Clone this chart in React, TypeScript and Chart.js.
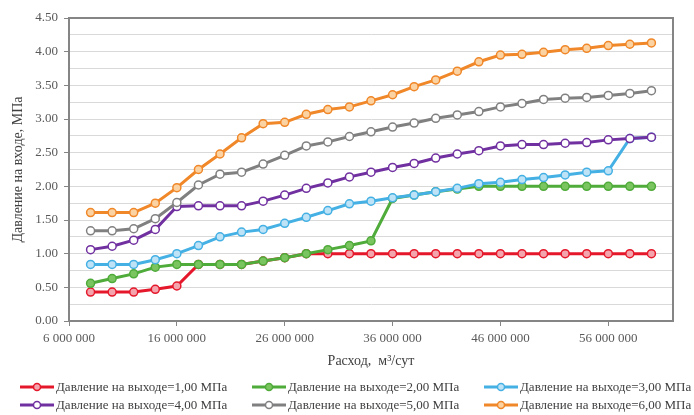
import React, { useEffect, useRef } from "react";
import { Chart, registerables } from "chart.js";

Chart.register(...registerables);

const flowValues = [
  8000000, 10000000, 12000000, 14000000, 16000000, 18000000, 20000000, 22000000, 24000000,
  26000000, 28000000, 30000000, 32000000, 34000000, 36000000, 38000000, 40000000, 42000000,
  44000000, 46000000, 48000000, 50000000, 52000000, 54000000, 56000000, 58000000, 60000000,
];

const p1 = [0.43, 0.43, 0.43, 0.47, 0.52, 0.84, 0.84, 0.84, 0.89, 0.94, 1.0, 1.0, 1.0, 1.0, 1.0, 1.0, 1.0, 1.0, 1.0, 1.0, 1.0, 1.0, 1.0, 1.0, 1.0, 1.0, 1.0];
const p2 = [0.56, 0.63, 0.7, 0.8, 0.84, 0.84, 0.84, 0.84, 0.89, 0.94, 1.0, 1.06, 1.12, 1.19, 1.82, 1.87, 1.92, 1.96, 2.0, 2.0, 2.0, 2.0, 2.0, 2.0, 2.0, 2.0, 2.0];
const p3 = [0.84, 0.84, 0.84, 0.91, 1.0, 1.12, 1.25, 1.32, 1.36, 1.45, 1.54, 1.64, 1.74, 1.78, 1.83, 1.87, 1.92, 1.97, 2.04, 2.06, 2.1, 2.13, 2.17, 2.21, 2.23, 2.71, 2.73];
const p4 = [1.06, 1.11, 1.2, 1.36, 1.7, 1.71, 1.71, 1.71, 1.78, 1.87, 1.97, 2.05, 2.14, 2.21, 2.28, 2.34, 2.42, 2.48, 2.53, 2.6, 2.62, 2.62, 2.64, 2.65, 2.69, 2.71, 2.73];
const p5 = [1.34, 1.34, 1.37, 1.52, 1.76, 2.02, 2.18, 2.21, 2.33, 2.46, 2.6, 2.66, 2.74, 2.81, 2.88, 2.94, 3.01, 3.06, 3.11, 3.18, 3.23, 3.29, 3.31, 3.32, 3.35, 3.38, 3.42];
const p6 = [1.61, 1.61, 1.61, 1.75, 1.98, 2.25, 2.48, 2.72, 2.93, 2.95, 3.07, 3.14, 3.18, 3.27, 3.36, 3.48, 3.58, 3.71, 3.85, 3.95, 3.96, 3.99, 4.03, 4.05, 4.09, 4.11, 4.13];

const seriesLabels = [
  "Давление на выходе=1,00 МПа",
  "Давление на выходе=2,00 МПа",
  "Давление на выходе=3,00 МПа",
  "Давление на выходе=4,00 МПа",
  "Давление на выходе=5,00 МПа",
  "Давление на выходе=6,00 МПа",
];
const seriesValues = [p1, p2, p3, p4, p5, p6];

const xTickValues = [6000000, 16000000, 26000000, 36000000, 46000000, 56000000];
const yTickValues = [0, 0.25, 0.5, 0.75, 1, 1.25, 1.5, 1.75, 2, 2.25, 2.5, 2.75, 3, 3.25, 3.5, 3.75, 4, 4.25, 4.5];

const xTitle = "Расход,  м³/сут";
const yTitle = "Давление на входе, МПа";

const lineColors = ["#e5182b", "#4fab3a", "#44b0e4", "#7030a0", "#808080", "#f08728"];
const pointFills = ["#f4a4ad", "#7ac55f", "#bfe3f6", "#ffffff", "#ffffff", "#fbd2a2"];

const FONT = "'Liberation Serif', 'Times New Roman', serif";

const legendCols = [20, 252, 484];
const legendRows = [387, 405];

const borderPlugin = {
  id: "plotBorder",
  beforeDatasetsDraw(chart: any) {
    const { ctx, chartArea } = chart;
    ctx.save();
    ctx.strokeStyle = "#858585";
    ctx.lineWidth = 2;
    ctx.strokeRect(chartArea.left, chartArea.top, chartArea.right - chartArea.left, chartArea.bottom - chartArea.top);
    ctx.restore();
  },
};

function fmtThousands(v: number) {
  return Math.round(v).toString().replace(/\B(?=(\d{3})+(?!\d))/g, " ");
}

export default function App() {
  const ref = useRef<HTMLCanvasElement | null>(null);

  useEffect(() => {
    if (!ref.current) return;
    const datasets = seriesValues.map((vals, i) => ({
      label: seriesLabels[i],
      data: vals.map((y, k) => ({ x: flowValues[k], y })),
      showLine: true,
      borderColor: lineColors[i],
      backgroundColor: pointFills[i],
      borderWidth: 3,
      pointRadius: 4,
      pointBorderWidth: 1.5,
      pointBackgroundColor: pointFills[i],
      pointBorderColor: lineColors[i],
      order: 6 - i,
    }));

    const chart = new Chart(ref.current, {
      type: "scatter",
      data: { datasets },
      options: {
        animation: false,
        responsive: false,
        layout: { padding: { left: 0, top: 18, right: 21, bottom: 44 } },
        plugins: { legend: { display: false }, tooltip: { enabled: false } },
        scales: {
          x: {
            type: "linear",
            min: 6000000,
            max: 62000000,
            afterBuildTicks: (scale: any) => {
              scale.ticks = xTickValues.map((v) => ({ value: v }));
            },
            afterFit: (scale: any) => {
              scale.height = 50;
            },
            grid: { drawOnChartArea: false, drawTicks: true, tickLength: 5, tickColor: "#858585" },
            border: { display: true, color: "#858585", width: 2 },
            ticks: {
              padding: 5,
              color: "#595959",
              font: { family: FONT, size: 13 },
              maxRotation: 0,
              autoSkip: false,
              callback: (v: any) => fmtThousands(Number(v)),
            },
            title: {
              display: true,
              text: xTitle,
              align: "center",
              color: "#404040",
              font: { family: FONT, size: 14 },
              padding: { top: 0, bottom: 1 },
            },
          },
          y: {
            type: "linear",
            min: 0,
            max: 4.5,
            afterBuildTicks: (scale: any) => {
              scale.ticks = yTickValues.map((v) => ({ value: v }));
            },
            afterFit: (scale: any) => {
              scale.width = 69;
            },
            grid: {
              color: "#d9d9d9",
              lineWidth: 1,
              drawTicks: true,
              tickLength: 5,
              tickColor: (c: any) => (c.tick && Math.abs(c.tick.value * 2 - Math.round(c.tick.value * 2)) < 1e-6 ? "#858585" : "rgba(0,0,0,0)"),
            },
            border: { display: true, color: "#858585", width: 2 },
            ticks: {
              padding: 6,
              color: "#595959",
              font: { family: FONT, size: 13 },
              autoSkip: false,
              callback: (v: any) => {
                const n = Number(v);
                return Math.abs(n * 2 - Math.round(n * 2)) < 1e-6 ? n.toFixed(2) : "";
              },
            },
            title: {
              display: true,
              text: yTitle,
              color: "#404040",
              font: { family: FONT, size: 14 },
              padding: { top: 10, bottom: 0 },
            },
          },
        },
      },
      plugins: [borderPlugin],
    } as any);

    return () => chart.destroy();
  }, []);

  return (
    <div style={{ position: "absolute", left: 0, top: 0, width: 694, height: 415, background: "#ffffff", overflow: "hidden" }}>
      <canvas ref={ref} width={694} height={415} style={{ position: "absolute", left: 0, top: 0 }} />
      {seriesLabels.map((label, i) => {
        const col = i % 3;
        const row = Math.floor(i / 3);
        return (
          <div
            key={label}
            style={{
              position: "absolute",
              left: legendCols[col],
              top: legendRows[row] - 9,
              height: 18,
              display: "flex",
              alignItems: "center",
              whiteSpace: "nowrap",
              fontFamily: FONT,
              fontSize: 13,
              color: "#404040",
            }}
          >
            <svg width={34} height={10} style={{ display: "block" }}>
              <line x1={0} y1={5} x2={34} y2={5} stroke={lineColors[i]} strokeWidth={3} />
              <circle cx={17} cy={5} r={3.5} fill={pointFills[i]} stroke={lineColors[i]} strokeWidth={1.5} />
            </svg>
            <span style={{ marginLeft: 2 }}>{label}</span>
          </div>
        );
      })}
    </div>
  );
}
